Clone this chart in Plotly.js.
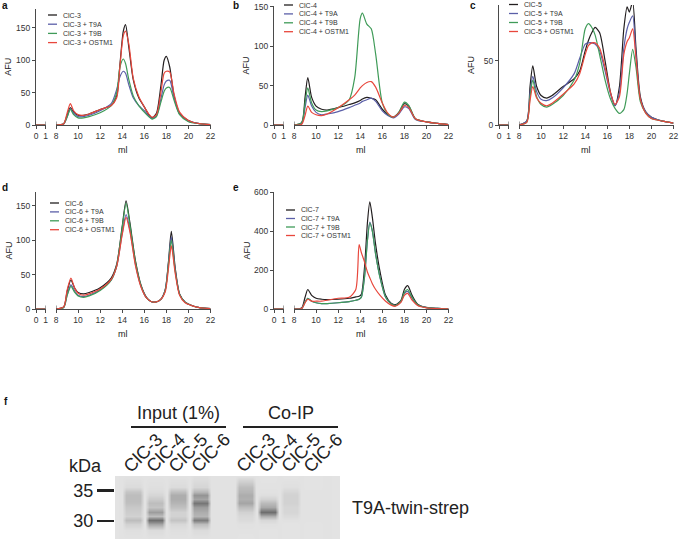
<!DOCTYPE html>
<html>
<head>
<meta charset="utf-8">
<script src="https://cdn.plot.ly/plotly-3.0.1.min.js"></script>
<style>
  body { margin: 0; background: #fff; }
  #chart { width: 680px; height: 540px; }
</style>
</head>
<body>
<div id="chart"></div>
<script>
// series suffixes and colours, same order in every panel
const seriesSuffix = ["", " + T9A", " + T9B", " + OSTM1"];
const seriesColors = ["#231f20", "#5b5fa8", "#3f9b58", "#e8473c"];

// a: ClC-3
const mlA = [8, 8.7, 9.0, 9.3, 9.6, 10, 10.5, 11, 12, 13, 13.5, 13.8, 14.1, 14.3, 14.6, 15, 15.5, 16, 16.4, 16.7, 17.1, 17.5, 17.8, 18.0, 18.3, 18.7, 19.2, 20, 21, 22];
const clc3 = [0, 2, 15, 27, 20, 15, 15, 17, 24, 30, 45, 95, 145, 155, 120, 70, 42, 28, 16, 11, 18, 60, 100, 106, 90, 45, 18, 7, 2, 0.5];
const clc3T9A = [0, 2, 12, 25, 18, 13, 13, 15, 22, 33, 55, 75, 83, 80, 62, 42, 30, 22, 14, 10, 14, 40, 62, 68, 69, 42, 17, 6, 2, 0.5];
const clc3T9B = [0, 2, 12, 24, 16, 11, 11, 13, 19, 30, 50, 90, 102, 95, 70, 45, 30, 20, 13, 9, 13, 35, 52, 57, 58, 38, 16, 5, 2, 0.5];
const clc3OSTM1 = [0, 2, 18, 33, 22, 16, 15, 17, 24, 30, 42, 92, 138, 145, 125, 72, 44, 28, 17, 12, 16, 50, 80, 83, 82, 48, 20, 7, 2, 0.5];

// b: ClC-4
const mlB = [8, 8.7, 9.0, 9.25, 9.6, 10, 10.5, 11, 12, 13, 13.5, 14, 14.2, 14.6, 15, 15.4, 16, 16.5, 17, 17.5, 18, 18.4, 19, 20, 21, 22];
const clc4 = [0, 3, 35, 60, 35, 24, 20, 19, 22, 26, 28, 31, 33, 35, 34, 32, 20, 13, 10, 16, 27, 24, 8, 4, 2, 0.5];
const clc4T9A = [0, 2, 22, 38, 24, 16, 13, 14, 17, 22, 25, 28, 30, 32, 34, 30, 18, 12, 9, 14, 23, 21, 7, 4, 2, 0.5];
const clc4T9B = [0, 3, 28, 47, 28, 19, 17, 18, 22, 32, 60, 135, 142, 128, 122, 90, 28, 14, 10, 16, 29, 25, 8, 4, 2, 0.5];
const clc4OSTM1 = [0, 1, 12, 24, 16, 13, 12, 14, 22, 32, 38, 47, 50, 54, 55, 48, 28, 15, 10, 15, 25, 22, 8, 4, 2, 0.5];

// c: ClC-5
const mlC = [8, 8.7, 9.0, 9.25, 9.6, 10, 10.5, 11, 12, 13, 13.5, 14, 14.3, 14.6, 14.9, 15.3, 15.8, 16.3, 16.7, 17.1, 17.5, 17.8, 18.0, 18.3, 18.6, 19, 19.5, 20, 21, 22];
const clc5 = [0, 3, 30, 46, 30, 23, 21, 23, 30, 36, 42, 58, 66, 72, 76, 72, 50, 25, 15, 30, 75, 92, 88, 96, 60, 22, 10, 6, 3, 1.5];
const clc5T9A = [0, 3, 25, 38, 26, 20, 19, 21, 29, 40, 52, 63, 64, 64, 63, 58, 42, 24, 15, 25, 60, 75, 80, 85, 55, 20, 10, 6, 3, 1.5];
const clc5T9B = [0, 2, 22, 35, 22, 16, 14, 16, 23, 35, 48, 75, 79, 76, 70, 55, 35, 20, 13, 9, 12, 25, 40, 59, 45, 18, 9, 5, 3, 1.5];
const clc5OSTM1 = [0, 2, 19, 30, 21, 17, 15, 17, 24, 32, 40, 55, 62, 64, 64, 60, 45, 25, 16, 22, 55, 65, 68, 75, 52, 20, 9, 5, 3, 1.5];

// d: ClC-6
const mlD = [8, 8.7, 9.0, 9.35, 9.7, 10, 10.5, 11, 12, 13, 13.5, 14, 14.35, 14.7, 15.2, 15.7, 16.2, 16.6, 17, 17.5, 17.9, 18.2, 18.45, 18.8, 19.2, 19.7, 20.3, 21, 22];
const clc6 = [0, 3, 25, 42, 30, 24, 22, 24, 31, 45, 65, 120, 157, 125, 70, 35, 17, 11, 10, 14, 28, 70, 113, 60, 22, 10, 5, 2, 0.5];
const clc6T9A = [0, 2, 20, 35, 26, 20, 18, 20, 28, 42, 62, 110, 137, 115, 65, 33, 16, 11, 10, 14, 28, 68, 105, 57, 21, 10, 5, 2, 0.5];
const clc6T9B = [0, 2, 19, 33, 24, 19, 17, 19, 27, 42, 63, 118, 154, 122, 68, 34, 16, 11, 10, 14, 27, 66, 100, 55, 21, 10, 5, 2, 0.5];
const clc6OSTM1 = [0, 3, 27, 45, 30, 23, 20, 22, 29, 43, 62, 108, 133, 112, 63, 32, 16, 11, 10, 14, 25, 60, 92, 52, 20, 9, 5, 2, 0.5];

// e: ClC-7
const mlE = [8, 8.7, 9.0, 9.25, 9.6, 10, 10.5, 11, 12, 13, 13.6, 13.9, 14.1, 14.4, 14.65, 14.87, 15.1, 15.4, 15.8, 16.3, 16.8, 17.2, 17.7, 18.0, 18.3, 18.7, 19.2, 20, 21, 22];
const clc7 = [0, 5, 60, 100, 70, 55, 50, 48, 50, 55, 62, 65, 75, 220, 440, 550, 470, 330, 190, 70, 30, 22, 45, 100, 120, 70, 25, 8, 3, 1];
const clc7T9A = [0, 3, 35, 55, 40, 32, 28, 28, 32, 38, 45, 50, 60, 170, 350, 445, 400, 280, 160, 60, 26, 18, 38, 80, 90, 55, 20, 7, 3, 1];
const clc7T9B = [0, 3, 35, 55, 40, 32, 28, 28, 32, 38, 45, 50, 60, 170, 350, 440, 400, 280, 160, 60, 26, 18, 40, 85, 100, 60, 22, 7, 3, 1];
const clc7OSTM1 = [0, 3, 32, 50, 40, 40, 40, 45, 55, 60, 100, 330, 290, 240, 190, 160, 130, 100, 70, 40, 20, 14, 35, 70, 80, 45, 18, 6, 2, 1];

// f: blot, band density per lane (rows top to bottom, in kDa)
const blotLanes = ["ClC-3", "ClC-4", "ClC-5", "ClC-6", "ClC-3", "ClC-4", "ClC-5", "ClC-6"];
const blotLaneX = [1, 2, 3, 4, 6, 7, 8, 9];
const blotKDa = [37.4, 35.6, 34.8, 34.3, 33.6, 33.0, 32.3, 31.5, 30.8, 30.2, 29.5, 28.5, 27.0];
const blotDensity = [
  [0.03, 0.08, 0.25, 0.3, 0.3, 0.28, 0.22, 0.18, 0.15, 0.3, 0.15, 0.05, 0.03],
  [0.03, 0.05, 0.08, 0.12, 0.2, 0.3, 0.25, 0.5, 0.3, 0.8, 0.45, 0.08, 0.03],
  [0.03, 0.08, 0.3, 0.4, 0.4, 0.35, 0.28, 0.15, 0.15, 0.25, 0.1, 0.05, 0.03],
  [0.05, 0.12, 0.35, 0.55, 0.45, 0.75, 0.5, 0.4, 0.35, 0.7, 0.3, 0.08, 0.03],
  [0.03, 0.3, 0.35, 0.4, 0.38, 0.45, 0.3, 0.15, 0.1, 0.08, 0.04, 0.03, 0.02],
  [0.02, 0.03, 0.04, 0.06, 0.15, 0.32, 0.42, 0.8, 0.4, 0.1, 0.04, 0.02, 0.02],
  [0.02, 0.05, 0.12, 0.15, 0.15, 0.15, 0.12, 0.12, 0.08, 0.04, 0.02, 0.02, 0.02],
  [0.02, 0.02, 0.03, 0.03, 0.03, 0.03, 0.03, 0.03, 0.03, 0.03, 0.02, 0.02, 0.02]
];
const blotMarkers = [35, 30];

const W = 680, H = 540;
const px = x => x / W;
const py = y => 1 - y / H;
const axisColor = "#4a4a4a";
const font = "Liberation Sans, Arial, sans-serif";
const blotFont = 18;

// pixel boxes of the chromatograms
const panels = [
  {letter: "a", protein: "ClC-3", ml: mlA, ys: [clc3, clc3T9A, clc3T9B, clc3OSTM1],
   left: 36, top: 8.5, bottom: 125, ymax: 180, yticks: [0, 50, 100, 150],
   letterPos: [5, 5], legend: [48, 15, 9.2]},
  {letter: "b", protein: "ClC-4", ml: mlB, ys: [clc4, clc4T9A, clc4T9B, clc4OSTM1],
   left: 274, top: 6, bottom: 125, ymax: 151, yticks: [0, 50, 100, 150],
   letterPos: [236, 5], legend: [284, 5, 8.9]},
  {letter: "c", protein: "ClC-5", ml: mlC, ys: [clc5, clc5T9A, clc5T9B, clc5OSTM1],
   left: 499, top: 5, bottom: 125, ymax: 93.5, yticks: [0, 50],
   letterPos: [473, 5], legend: [509, 4.5, 9]},
  {letter: "d", protein: "ClC-6", ml: mlD, ys: [clc6, clc6T9A, clc6T9B, clc6OSTM1],
   left: 36, top: 192, bottom: 309, ymax: 170, yticks: [0, 50, 100, 150],
   letterPos: [5, 187], legend: [50, 203, 8.9]},
  {letter: "e", protein: "ClC-7", ml: mlE, ys: [clc7, clc7T9A, clc7T9B, clc7OSTM1],
   left: 274, top: 192, bottom: 309, ymax: 600, yticks: [0, 200, 400, 600],
   letterPos: [236, 188], legend: [286, 210, 8.5]}
];

const data = [];
const shapes = [];
const annotations = [];
const layout = {
  width: W, height: H,
  margin: {l: 0, r: 0, t: 0, b: 0},
  paper_bgcolor: "#fff",
  plot_bgcolor: "rgba(0,0,0,0)",
  showlegend: false,
  font: {family: font, color: "#222"}
};

function tickAxis(extra)
{
  return Object.assign({
    showgrid: false, zeroline: false, showline: true,
    linecolor: axisColor, linewidth: 1,
    ticks: "outside", ticklen: 3, tickcolor: axisColor, tickwidth: 1,
    tickfont: {size: 8.5, color: "#333", family: font},
    fixedrange: true
  }, extra);
}

panels.forEach((p, k) => {
  const xs = "x" + (2 * k + 1), xm = "x" + (2 * k + 2), ya = "y" + (k + 1);
  const xsKey = "xaxis" + (2 * k + 1), xmKey = "xaxis" + (2 * k + 2), yKey = "yaxis" + (k + 1);
  const shortEnd = p.left + 9.5, mainStart = p.left + 20, right = p.left + 174.5;

  layout[xsKey] = tickAxis({domain: [px(p.left), px(shortEnd)], range: [0, 1],
    tickvals: [0, 1], anchor: ya});
  layout[xmKey] = tickAxis({domain: [px(mainStart), px(right)], range: [8, 22],
    tickvals: [8, 10, 12, 14, 16, 18, 20, 22], anchor: ya});
  layout[yKey] = tickAxis({domain: [py(p.bottom), py(p.top)], range: [0, p.ymax],
    tickvals: p.yticks, anchor: xs});

  // axis break marks
  [[xs, 1], [xm, 8]].forEach(([xr, v]) => {
    shapes.push({type: "line", xref: xr, yref: ya, x0: v, x1: v,
      ysizemode: "pixel", yanchor: 0, y0: -3.5, y1: 3.5,
      line: {color: axisColor, width: 1}});
  });

  p.ys.forEach((y, i) => {
    data.push({x: [0, 1], y: [0, 0], xaxis: xs, yaxis: ya, type: "scatter",
      mode: "lines", line: {color: seriesColors[i], width: 1.2}, hoverinfo: "skip"});
    data.push({x: p.ml, y: y, xaxis: xm, yaxis: ya, type: "scatter", mode: "lines",
      name: p.protein + seriesSuffix[i],
      line: {color: seriesColors[i], width: 1.2, shape: "spline", smoothing: 0.7}});
  });

  // legend drawn by hand so the line samples stay short
  const [lx, ly, dy] = p.legend;
  p.ys.forEach((y, i) => {
    const yy = ly + i * dy;
    shapes.push({type: "line", xref: "paper", yref: "paper",
      x0: px(lx), x1: px(lx + 9), y0: py(yy), y1: py(yy),
      line: {color: seriesColors[i], width: 1.3}});
    annotations.push({xref: "paper", yref: "paper", x: px(lx + 13), y: py(yy),
      xanchor: "left", yanchor: "middle", showarrow: false,
      text: p.protein + seriesSuffix[i], font: {size: 7, color: "#333"}});
  });

  annotations.push({xref: "paper", yref: "paper", x: px(p.letterPos[0]), y: py(p.letterPos[1]),
    xanchor: "center", yanchor: "middle", showarrow: false,
    text: "<b>" + p.letter + "</b>", font: {size: 10, color: "#111"}});
  annotations.push({xref: "paper", yref: "paper", x: px(p.left - 28), y: py((p.top + p.bottom) / 2),
    xanchor: "center", yanchor: "middle", showarrow: false, textangle: -90,
    text: "AFU", font: {size: 9, color: "#222"}});
  annotations.push({xref: "paper", yref: "paper", x: px(p.left + 87), y: py(p.bottom + 25),
    xanchor: "center", yanchor: "middle", showarrow: false,
    text: "ml", font: {size: 9, color: "#222"}});
});

// blot heatmap: each lane gets a flat band core with faint edges
const blotX = [0.2];
blotLaneX.forEach(c => blotX.push(c - 0.47, c - 0.3, c + 0.3, c + 0.47));
blotX.push(10.2);
const blotZ = blotKDa.map((kda, r) => {
  const row = [0.02];
  blotDensity.forEach(lane => row.push(0.03, lane[r], lane[r], 0.03));
  row.push(0.02);
  return row;
});
data.push({type: "heatmap", x: blotX, y: blotKDa, z: blotZ, xaxis: "x11", yaxis: "y6",
  zmin: 0, zmax: 1, zsmooth: "best", showscale: false, hoverinfo: "skip",
  colorscale: [[0, "#e6e6e6"], [0.3, "#bdbdbd"], [0.6, "#8c8c8c"], [1, "#505050"]]});

layout.xaxis11 = {domain: [px(115), px(340)], range: [0.2, 10.2], anchor: "y6",
  visible: false, fixedrange: true};
layout.yaxis6 = {domain: [py(539), py(476)], range: [27.0, 37.4], anchor: "x11",
  showgrid: false, zeroline: false, showline: false, fixedrange: true,
  tickvals: blotMarkers, ticks: "outside", ticklen: 17, tickwidth: 2.5, tickcolor: "#222",
  tickfont: {size: blotFont, color: "#222", family: font}};

blotLanes.forEach((name, i) => {
  annotations.push({xref: "x11", yref: "paper", x: blotLaneX[i], y: py(453), xshift: 10,
    xanchor: "center", yanchor: "middle", showarrow: false, textangle: -45,
    text: name, font: {size: blotFont, color: "#222"}});
});

[["Input (1%)", 131, 226], ["Co-IP", 243, 338]].forEach(([label, x0, x1]) => {
  annotations.push({xref: "paper", yref: "paper", x: px((x0 + x1) / 2), y: py(413),
    xanchor: "center", yanchor: "middle", showarrow: false,
    text: label, font: {size: blotFont, color: "#222"}});
  shapes.push({type: "line", xref: "paper", yref: "paper", x0: px(x0), x1: px(x1),
    y0: py(427), y1: py(427), line: {color: "#222", width: 2}});
});

annotations.push({xref: "paper", yref: "paper", x: px(85), y: py(466),
  xanchor: "center", yanchor: "middle", showarrow: false,
  text: "kDa", font: {size: blotFont, color: "#222"}});
annotations.push({xref: "paper", yref: "paper", x: px(350), y: py(508),
  xanchor: "left", yanchor: "middle", showarrow: false,
  text: "T9A-twin-strep", font: {size: blotFont, color: "#222"}});
annotations.push({xref: "paper", yref: "paper", x: px(6), y: py(401),
  xanchor: "center", yanchor: "middle", showarrow: false,
  text: "<b>f</b>", font: {size: 10, color: "#111"}});

layout.shapes = shapes;
layout.annotations = annotations;

Plotly.newPlot("chart", data, layout, {staticPlot: true, displayModeBar: false});
</script>
</body>
</html>
